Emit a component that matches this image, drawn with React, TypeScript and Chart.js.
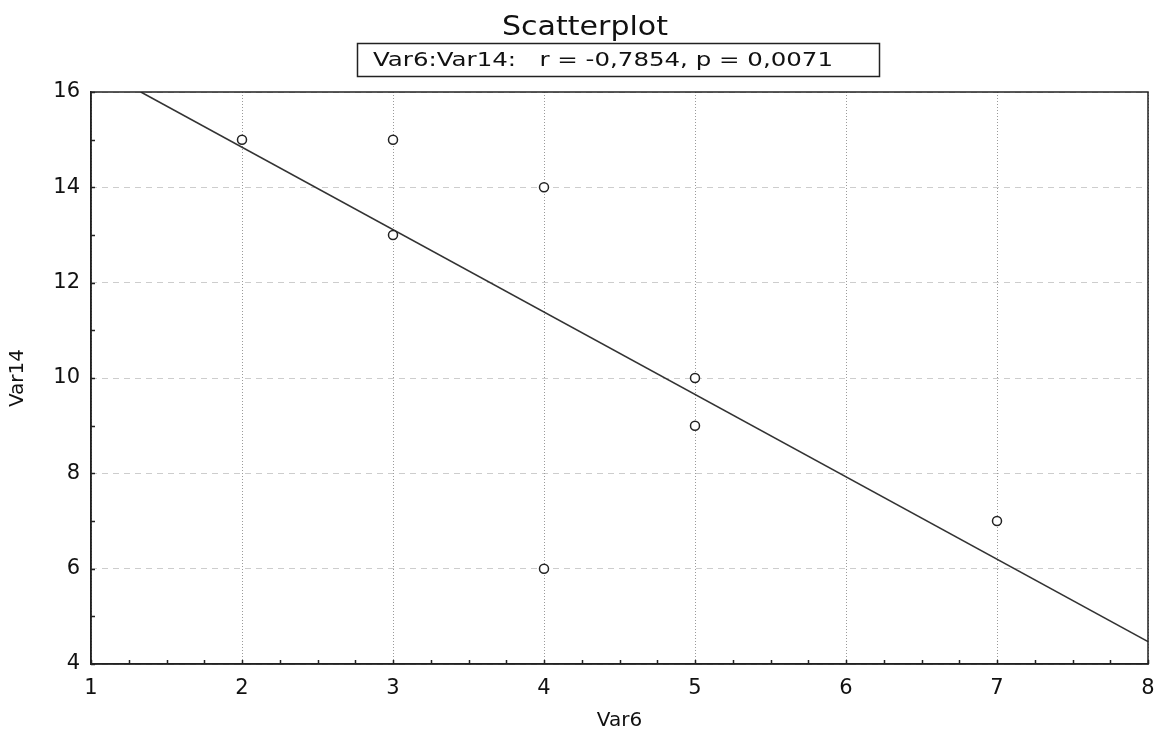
import React, { useEffect, useRef } from 'react';
import { Chart, registerables } from 'chart.js';

Chart.register(...registerables);

// ---- data ----
const var6 = [2, 3, 3, 4, 4, 5, 5, 7];
const var14 = [15, 15, 13, 14, 6, 10, 9, 7];
const fitX = [1.33, 8];
const fitY = [16, 4.47];
const xTicks = [1, 2, 3, 4, 5, 6, 7, 8];
const yTicks = [4, 6, 8, 10, 12, 14, 16];
const titleText = 'Scatterplot';
const statText = 'Var6:Var14:   r = -0,7854, p = 0,0071';
const xLabel = 'Var6';
const yLabel = 'Var14';

const FONT = '"DejaVu Sans", "Liberation Sans", Arial, sans-serif';

function fitText(ctx: CanvasRenderingContext2D, text: string, x: number, y: number, w: number, font: string) {
  ctx.save();
  ctx.font = font;
  ctx.textAlign = 'left';
  ctx.textBaseline = 'alphabetic';
  ctx.fillStyle = '#111';
  const m = ctx.measureText(text).width;
  ctx.translate(x, y);
  ctx.scale(w / m, 1);
  ctx.fillText(text, 0, 0);
  ctx.restore();
}

const decor = {
  id: 'decor',
  afterDraw(chart: any) {
    const ctx: CanvasRenderingContext2D = chart.ctx;
    const a = chart.chartArea;
    const xs = chart.scales.x;
    const ys = chart.scales.y;
    ctx.save();
    // frame
    ctx.strokeStyle = '#222';
    ctx.lineWidth = 1.5;
    ctx.strokeRect(a.left, a.top, a.right - a.left, a.bottom - a.top);
    // inward minor ticks
    ctx.lineWidth = 1.5;
    ctx.beginPath();
    for (let v = xTicks[0]; v <= xTicks[xTicks.length - 1] + 1e-9; v += 0.25) {
      const px = Math.round(xs.getPixelForValue(v)) + 0.5;
      ctx.moveTo(px, a.bottom);
      ctx.lineTo(px, a.bottom - 4);
    }
    for (let v = yTicks[0]; v <= yTicks[yTicks.length - 1] + 1e-9; v += 1) {
      const py = Math.round(ys.getPixelForValue(v)) + 0.5;
      ctx.moveTo(a.left, py);
      ctx.lineTo(a.left + 4, py);
    }
    ctx.stroke();
    ctx.restore();

    // titles
    fitText(ctx, titleText, 502, 35, 166, '27px ' + FONT);
    ctx.save();
    ctx.strokeStyle = '#222';
    ctx.lineWidth = 1.5;
    ctx.strokeRect(357.5, 43.5, 522, 33);
    ctx.restore();
    fitText(ctx, statText, 373, 66, 460, '20px ' + FONT);
  },
};

export default function App() {
  const ref = useRef<HTMLCanvasElement | null>(null);

  useEffect(() => {
    document.body.style.margin = '0';
    const canvas = ref.current;
    if (!canvas) return;
    const chart = new Chart(canvas, {
      type: 'scatter',
      data: {
        datasets: [
          {
            type: 'line',
            label: 'fit',
            data: fitX.map((x, i) => ({ x, y: fitY[i] })),
            borderColor: '#333',
            borderWidth: 1.6,
            pointRadius: 0,
            fill: false,
            order: 2,
          } as any,
          {
            label: 'points',
            data: var6.map((x, i) => ({ x, y: var14[i] })),
            pointStyle: 'circle',
            pointRadius: 4.5,
            pointBorderWidth: 1.5,
            pointBorderColor: '#222',
            pointBackgroundColor: '#fff',
            order: 1,
          },
        ],
      },
      options: {
        responsive: false,
        animation: false,
        layout: { padding: { top: 92, right: 11, left: 0, bottom: 0 } },
        plugins: {
          legend: { display: false },
          title: { display: false },
          tooltip: { enabled: false },
        },
        scales: {
          x: {
            type: 'linear',
            min: 1,
            max: 8,
            afterBuildTicks: (s: any) => {
              s.ticks = xTicks.map((v) => ({ value: v }));
            },
            afterFit: (s: any) => {
              s.height = 69;
              s.paddingLeft = 0;
              s.paddingRight = 0;
            },
            grid: { color: '#9a9a9a', lineWidth: 1, drawTicks: false },
            border: { display: true, color: '#222', width: 1.5, dash: [1, 2] },
            ticks: {
              padding: 12,
              color: '#111',
              font: { family: FONT, size: 21 },
            },
            title: {
              display: true,
              text: xLabel,
              color: '#111',
              font: { family: FONT, size: 20 },
              padding: { top: 0, bottom: 0 },
            },
          },
          y: {
            type: 'linear',
            min: 4,
            max: 16,
            afterBuildTicks: (s: any) => {
              s.ticks = yTicks.map((v) => ({ value: v }));
            },
            afterFit: (s: any) => {
              s.width = 91;
              s.paddingTop = 0;
              s.paddingBottom = 0;
            },
            grid: { color: '#9a9a9a', lineWidth: 1, drawTicks: false },
            border: { display: true, color: '#222', width: 1.5, dash: [1, 1, 1, 1, 1, 6] },
            ticks: {
              padding: 11,
              color: '#111',
              font: { family: FONT, size: 21 },
            },
            title: {
              display: true,
              text: yLabel,
              color: '#111',
              font: { family: FONT, size: 20 },
              padding: { top: 6, bottom: 0 },
            },
          },
        },
      },
      plugins: [decor],
    } as any);
    return () => chart.destroy();
  }, []);

  return (
    <div style={{ width: 1159, height: 733, background: '#fff' }}>
      <canvas ref={ref} width={1159} height={733} style={{ display: 'block' }} />
    </div>
  );
}
